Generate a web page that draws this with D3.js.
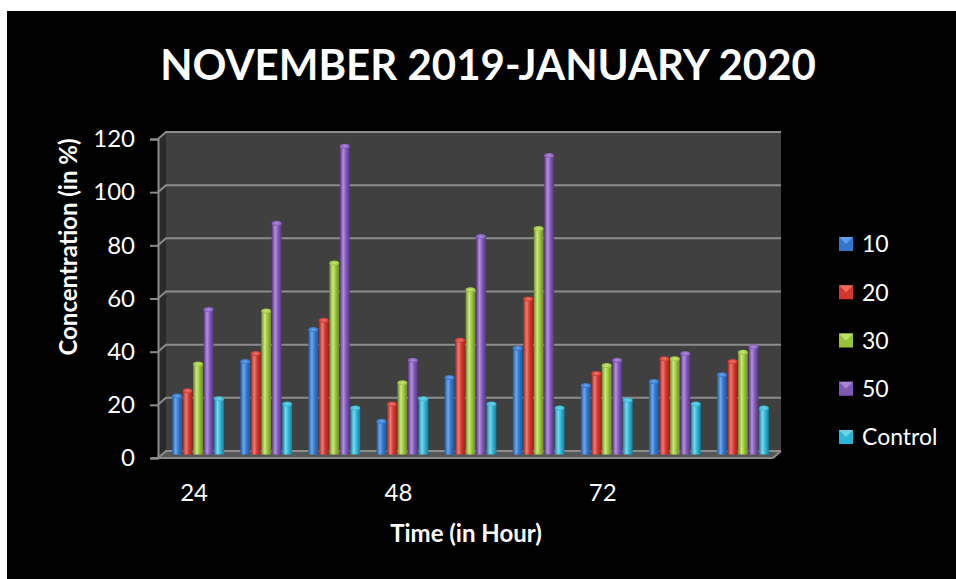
<!DOCTYPE html>
<html>
<head>
<meta charset="utf-8">
<script src="https://cdn.jsdelivr.net/npm/d3@7"></script>
<style>
  body { margin:0; background:#ffffff; }
  svg { display:block; }
  .title { font-family:Lato, "Open Sans", sans-serif; font-weight:bold; fill:#ffffff; }
  .label { font-family:Lato, "Open Sans", sans-serif; font-weight:bold; fill:#ffffff; }
  .tick text { font-family:Lato, "Open Sans", sans-serif; fill:#ffffff; }
  .legend text { font-family:Lato, "Open Sans", sans-serif; fill:#ffffff; }
</style>
</head>
<body>
<svg></svg>
<script>
// time labels (only every third group is labelled in the original)
var categories = ["24", "", "", "48", "", "", "72", "", ""];
var seriesNames = ["10", "20", "30", "50", "Control"];
var s10 = [22, 35, 47, 12.5, 29, 40, 26, 27.5, 30];
var s20 = [24, 38, 50.5, 19, 43, 58.5, 30.5, 36, 35];
var s30 = [34, 54, 72, 27, 62, 85, 33.5, 36, 38.5];
var s50 = [54.5, 87, 116, 35.5, 82, 112.5, 35.5, 38, 40.5];
var sControl = [21, 19, 17.5, 21, 19, 17.5, 20.5, 19, 17.5];
var yTicks = [0, 20, 40, 60, 80, 100, 120];

var seriesValues = [s10, s20, s30, s50, sControl];
var colors = [
  {dark:"#22589a", base:"#2f76cc", light:"#6aa8f0"},
  {dark:"#9c2620", base:"#d6352d", light:"#f07a70"},
  {dark:"#6a8a24", base:"#98c23a", light:"#cbea7a"},
  {dark:"#553580", base:"#8057b6", light:"#b390e0"},
  {dark:"#1a7d98", base:"#2eb4d6", light:"#7ad8f0"}
];

var screen = {width:956, height:579};
// 3D depth offset of the back wall
var depth = {dx:8, dy:-7};

var svg = d3.select("svg")
  .attr("width", screen.width)
  .attr("height", screen.height);

svg.append("rect")
  .attr("x", 7).attr("y", 11)
  .attr("width", screen.width - 7)
  .attr("height", screen.height - 11)
  .attr("fill", "#000000");

var xScale = d3.scaleBand()
  .domain(d3.range(categories.length))
  .range([160, 773])
  .paddingInner(0.24)
  .paddingOuter(0.12);

var sScale = d3.scaleBand()
  .domain(d3.range(seriesNames.length))
  .range([0, xScale.bandwidth()])
  .paddingInner(0.06);

var yScale = d3.scaleLinear()
  .domain([0, 120])
  .range([458, 139]);

var defs = svg.append("defs");
colors.forEach(function(c, i)
{
  var g = defs.append("linearGradient")
    .attr("id", "cyl" + i)
    .attr("x1", "0%").attr("x2", "100%")
    .attr("y1", "0%").attr("y2", "0%");
  g.append("stop").attr("offset", "0%").attr("stop-color", c.dark);
  g.append("stop").attr("offset", "35%").attr("stop-color", c.light);
  g.append("stop").attr("offset", "65%").attr("stop-color", c.base);
  g.append("stop").attr("offset", "100%").attr("stop-color", c.dark);

  var r = defs.append("radialGradient")
    .attr("id", "cap" + i);
  r.append("stop").attr("offset", "0%").attr("stop-color", c.light);
  r.append("stop").attr("offset", "100%").attr("stop-color", c.base);
});

var drawWalls = function()
{
  var walls = svg.append("g").classed("walls", true);
  var x0 = xScale.range()[0] - 2, x1 = xScale.range()[1];
  var yTop = yScale(120), yBot = yScale(0);

  // back wall
  walls.append("rect")
    .attr("x", x0 + depth.dx)
    .attr("y", yTop + depth.dy)
    .attr("width", x1 - x0)
    .attr("height", yBot - yTop)
    .attr("fill", "#404040");

  // left side wall
  walls.append("polygon")
    .attr("points", [
      [x0, yTop], [x0 + depth.dx, yTop + depth.dy],
      [x0 + depth.dx, yBot + depth.dy], [x0, yBot]
    ].join(" "))
    .attr("fill", "#2a2a2a");

  // floor
  walls.append("polygon")
    .attr("points", [
      [x0, yBot], [x0 + depth.dx, yBot + depth.dy],
      [x1 + depth.dx, yBot + depth.dy], [x1, yBot]
    ].join(" "))
    .attr("fill", "#575757");

  // gridlines on the back and side wall
  yTicks.forEach(function(t)
  {
    var y = yScale(t);
    walls.append("polyline")
      .attr("points", [[x0, y], [x0 + depth.dx, y + depth.dy], [x1 + depth.dx, y + depth.dy]].join(" "))
      .attr("fill", "none")
      .attr("stroke", "#8c8c8c")
      .attr("stroke-width", 2);
  });

  walls.append("line")
    .attr("x1", x1).attr("y1", yBot)
    .attr("x2", x1 + depth.dx).attr("y2", yBot + depth.dy)
    .attr("stroke", "#8c8c8c").attr("stroke-width", 2);
}

var drawBars = function()
{
  var bars = svg.append("g").classed("bars", true);
  var off = {dx:depth.dx / 2, dy:depth.dy / 2};

  seriesValues.forEach(function(vals, si)
  {
    var w = sScale.bandwidth();
    var grp = bars.append("g");
    grp.selectAll("rect")
      .data(vals)
      .enter()
      .append("rect")
      .attr("x", function(d, i) { return xScale(i) + sScale(si) + off.dx; })
      .attr("y", function(d) { return yScale(d) + off.dy; })
      .attr("width", w)
      .attr("height", function(d) { return yScale(0) - yScale(d); })
      .attr("fill", "url(#cyl" + si + ")");

    grp.selectAll("ellipse")
      .data(vals)
      .enter()
      .append("ellipse")
      .attr("cx", function(d, i) { return xScale(i) + sScale(si) + off.dx + w / 2; })
      .attr("cy", function(d) { return yScale(d) + off.dy; })
      .attr("rx", w / 2)
      .attr("ry", 2.5)
      .attr("fill", "url(#cap" + si + ")");
  });
}

var drawAxes = function()
{
  var yAxis = d3.axisLeft(yScale)
    .tickValues(yTicks)
    .tickSize(8)
    .tickPadding(15);

  var ya = svg.append("g")
    .attr("transform", "translate(158,0)")
    .call(yAxis);
  ya.select(".domain").attr("stroke", "#8c8c8c").attr("stroke-width", 2);
  ya.selectAll(".tick line").attr("stroke", "#8c8c8c").attr("stroke-width", 2);
  ya.selectAll(".tick text").style("font-size", "24px");

  var xAxis = d3.axisBottom(xScale)
    .tickFormat(function(d) { return categories[d]; })
    .tickSize(0)
    .tickPadding(26);

  var xa = svg.append("g")
    .attr("transform", "translate(0," + yScale(0) + ")")
    .call(xAxis);
  xa.select(".domain").attr("stroke", "#8c8c8c").attr("stroke-width", 2)
    .attr("d", "M152,0H773");
  xa.selectAll(".tick text").style("font-size", "24px");
}

var drawLabels = function()
{
  var labels = svg.append("g").classed("labels", true);

  labels.append("text")
    .text("NOVEMBER 2019-JANUARY 2020")
    .classed("title", true)
    .attr("text-anchor", "middle")
    .attr("x", 488)
    .attr("y", 80)
    .style("font-size", "42px");

  labels.append("text")
    .text("Time (in Hour)")
    .classed("label", true)
    .attr("text-anchor", "middle")
    .attr("x", 466)
    .attr("y", 542)
    .style("font-size", "24px");

  labels.append("g")
    .attr("transform", "translate(77,247)")
    .append("text")
    .text("Concentration (in %)")
    .classed("label", true)
    .attr("text-anchor", "middle")
    .attr("transform", "rotate(-90)")
    .style("font-size", "24px");
}

var drawLegend = function()
{
  var legend = svg.append("g").classed("legend", true);
  var rowY = d3.scalePoint()
    .domain(seriesNames)
    .range([244, 437]);

  var items = legend.selectAll("g")
    .data(seriesNames)
    .enter()
    .append("g")
    .attr("transform", function(d) { return "translate(839," + rowY(d) + ")"; });

  items.append("rect")
    .attr("x", 0).attr("y", -7)
    .attr("width", 14).attr("height", 14)
    .attr("fill", function(d, i) { return colors[i].base; });

  items.append("path")
    .attr("d", "M0,-7L14,-7L7,0Z")
    .attr("fill", function(d, i) { return colors[i].light; })
    .attr("opacity", 0.8);

  items.append("text")
    .text(function(d) { return d; })
    .attr("x", 23)
    .attr("dy", "0.36em")
    .style("font-size", "23px");
}

drawWalls();
drawBars();
drawAxes();
drawLabels();
drawLegend();
</script>
</body>
</html>
